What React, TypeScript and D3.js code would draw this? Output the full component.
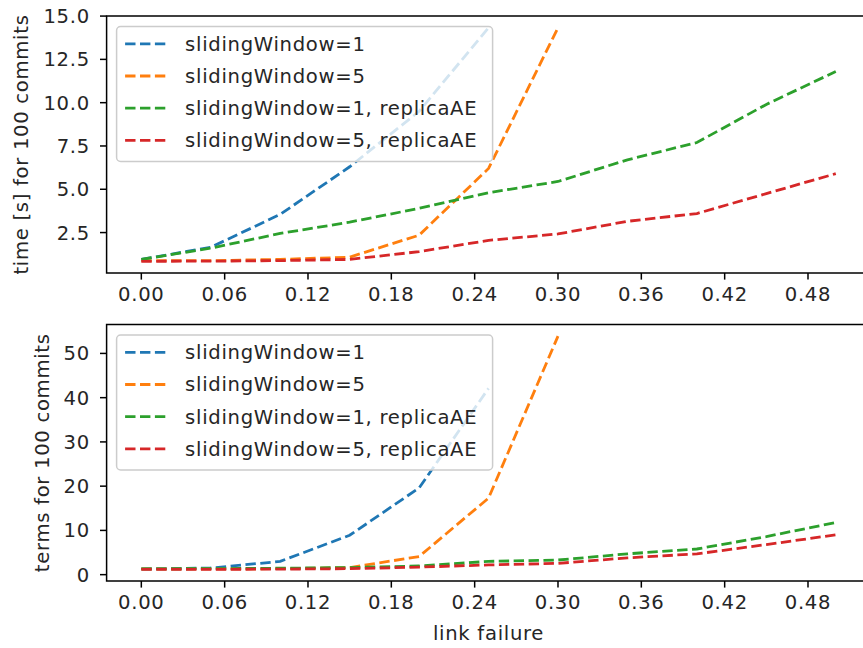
import React from "react";
import * as d3 from "d3";

const xValues = [0, 0.05, 0.1, 0.15, 0.2, 0.25, 0.3, 0.35, 0.4, 0.45, 0.5];
const seriesNames = [
  "slidingWindow=1",
  "slidingWindow=5",
  "slidingWindow=1, replicaAE",
  "slidingWindow=5, replicaAE",
];
const seriesColors = ["#1f77b4", "#ff7f0e", "#2ca02c", "#d62728"];

const timeSW1 = [0.95, 1.65, 3.55, 6.3, 9.5, 14.33];
const timeSW5 = [0.88, 0.88, 0.95, 1.08, 2.35, 6.2, 14.33];
const timeSW1AE = [0.95, 1.6, 2.45, 3.1, 3.9, 4.8, 5.45, 6.7, 7.7, 9.9, 11.8];
const timeSW5AE = [0.84, 0.85, 0.88, 0.95, 1.4, 2.05, 2.42, 3.15, 3.6, 4.75, 5.9];

const termsSW1 = [1.3, 1.5, 3.0, 8.9, 19.6, 42.1];
const termsSW5 = [1.3, 1.3, 1.35, 1.6, 4.1, 17.3, 53.9];
const termsSW1AE = [1.3, 1.35, 1.45, 1.6, 1.95, 3.0, 3.3, 4.7, 5.8, 8.6, 11.8];
const termsSW5AE = [1.2, 1.2, 1.25, 1.35, 1.7, 2.2, 2.55, 3.8, 4.7, 6.8, 9.0];

const xTicks = [0, 0.06, 0.12, 0.18, 0.24, 0.3, 0.36, 0.42, 0.48];
const timeTicks = [2.5, 5.0, 7.5, 10.0, 12.5, 15.0];
const termsTicks = [0, 10, 20, 30, 40, 50];

const W = 863;
const H = 648;
const FONT = "'DejaVu Sans', sans-serif";
const FS = 19.6;
const LS = 0.7;
const AX_LEFT = 106.6;
const AX_RIGHT = 870.5;
const TICK = 6.6;
const PAD = 6.6;
const LW = 2.8;
const DASH = "10.4,4.5";
const TXT = "#262626";

type PanelProps = {
  top: number;
  bottom: number;
  series: number[][];
  yTicks: number[];
  yFmt: (v: number) => string;
  ylabel: string;
  ylabelX: number;
  xlabel?: string;
};

const textStyle = { letterSpacing: `${LS}px` };

function Panel({ top, bottom, series, yTicks, yFmt, ylabel, ylabelX, xlabel }: PanelProps) {
  const all = series.flat();
  const mn = d3.min(all) as number;
  const mx = d3.max(all) as number;
  const m = (mx - mn) * 0.05;
  const x = d3.scaleLinear().domain([-0.025, 0.525]).range([AX_LEFT, AX_RIGHT]);
  const y = d3.scaleLinear().domain([mn - m, mx + m]).range([bottom, top]);
  const line = d3
    .line<number>()
    .x((_, i) => x(xValues[i]))
    .y((d) => y(d));
  const clipId = `clip-${Math.round(top)}`;

  const legX = AX_LEFT + 10;
  const legY = top + 10.5;
  const legW = 376;
  const rowH = 32.2;
  const legH = 135;

  return (
    <g>
      <defs>
        <clipPath id={clipId}>
          <rect x={AX_LEFT} y={top} width={AX_RIGHT - AX_LEFT} height={bottom - top} />
        </clipPath>
      </defs>
      <g clipPath={`url(#${clipId})`}>
        {series.map((s, i) => (
          <path
            key={i}
            d={line(s) || ""}
            fill="none"
            stroke={seriesColors[i]}
            strokeWidth={LW}
            strokeDasharray={DASH}
          />
        ))}
      </g>
      <rect
        x={AX_LEFT}
        y={top}
        width={AX_RIGHT - AX_LEFT}
        height={bottom - top}
        fill="none"
        stroke="#000"
        strokeWidth={1.5}
      />
      {xTicks.map((t) => (
        <g key={t}>
          <line x1={x(t)} x2={x(t)} y1={bottom} y2={bottom + TICK} stroke="#000" strokeWidth={1.5} />
          <text
            x={x(t)}
            y={bottom + TICK + PAD}
            dy="0.76em"
            textAnchor="middle"
            fontFamily={FONT}
            fontSize={FS}
            fill={TXT}
            style={textStyle}
          >
            {t.toFixed(2)}
          </text>
        </g>
      ))}
      {yTicks.map((t) => (
        <g key={t}>
          <line x1={AX_LEFT - TICK} x2={AX_LEFT} y1={y(t)} y2={y(t)} stroke="#000" strokeWidth={1.5} />
          <text
            x={AX_LEFT - TICK - PAD - 3.5}
            y={y(t)}
            dy="0.36em"
            textAnchor="end"
            fontFamily={FONT}
            fontSize={FS}
            fill={TXT}
            style={textStyle}
          >
            {yFmt(t)}
          </text>
        </g>
      ))}
      <text
        transform={`translate(${ylabelX},${(top + bottom) / 2}) rotate(-90)`}
        dy="0.35em"
        textAnchor="middle"
        fontFamily={FONT}
        fontSize={FS}
        fill={TXT}
        style={textStyle}
      >
        {ylabel}
      </text>
      {xlabel && (
        <text
          x={(AX_LEFT + AX_RIGHT) / 2}
          y={bottom + 52}
          dy="0.35em"
          textAnchor="middle"
          fontFamily={FONT}
          fontSize={FS}
          fill={TXT}
          style={textStyle}
        >
          {xlabel}
        </text>
      )}
      <rect
        x={legX}
        y={legY}
        width={legW}
        height={legH}
        rx={4}
        fill="#fff"
        fillOpacity={0.8}
        stroke="#cccccc"
        strokeWidth={1.5}
      />
      {seriesNames.map((name, i) => {
        const cy = legY + 17.3 + i * rowH;
        return (
          <g key={name}>
            <line
              x1={legX + 8.5}
              x2={legX + 50}
              y1={cy}
              y2={cy}
              stroke={seriesColors[i]}
              strokeWidth={LW}
              strokeDasharray={DASH}
            />
            <text
              x={legX + 68.5}
              y={cy}
              dy="0.35em"
              fontFamily={FONT}
              fontSize={FS}
              fill={TXT}
              style={textStyle}
            >
              {name}
            </text>
          </g>
        );
      })}
    </g>
  );
}

export default function App() {
  return (
    <svg
      width={W}
      height={H}
      style={{ position: "absolute", left: 0, top: 0, background: "#fff" }}
    >
      <rect width={W} height={H} fill="#fff" />
      <Panel
        top={16}
        bottom={273}
        series={[timeSW1, timeSW5, timeSW1AE, timeSW5AE]}
        yTicks={timeTicks}
        yFmt={(v) => v.toFixed(1)}
        ylabel="time [s] for 100 commits"
        ylabelX={21}
      />
      <Panel
        top={324.5}
        bottom={581}
        series={[termsSW1, termsSW5, termsSW1AE, termsSW5AE]}
        yTicks={termsTicks}
        yFmt={(v) => String(v)}
        ylabel="terms for 100 commits"
        ylabelX={42}
        xlabel="link failure"
      />
    </svg>
  );
}
